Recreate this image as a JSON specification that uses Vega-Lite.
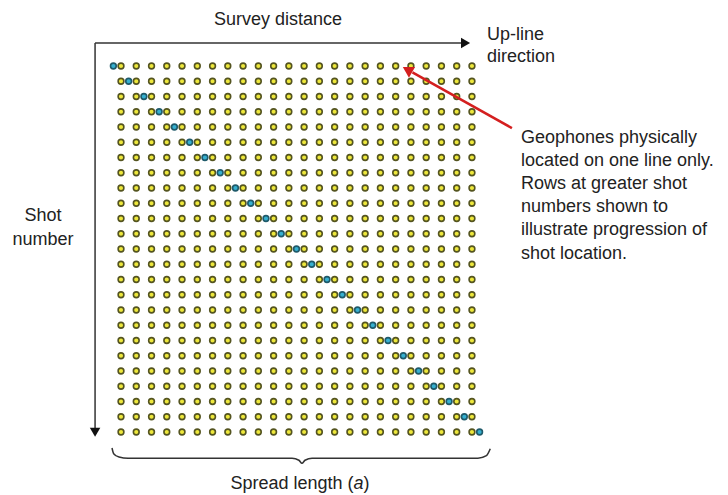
{
"$schema": "https://vega.github.io/schema/vega-lite/v6.json",
"width": 728, "height": 495,
"autosize": {"type": "fit", "contains": "padding"},
"padding": 0,
"background": "white",
"config": {"view": {"stroke": null}},
"datasets": {
"grid": [
{"x":0,"y":0},{"x":1,"y":0},{"x":2,"y":0},{"x":3,"y":0},{"x":4,"y":0},{"x":5,"y":0},{"x":6,"y":0},{"x":7,"y":0},{"x":8,"y":0},{"x":9,"y":0},{"x":10,"y":0},{"x":11,"y":0},{"x":12,"y":0},{"x":13,"y":0},{"x":14,"y":0},{"x":15,"y":0},{"x":16,"y":0},{"x":17,"y":0},{"x":18,"y":0},{"x":19,"y":0},{"x":20,"y":0},{"x":21,"y":0},{"x":22,"y":0},{"x":23,"y":0},
{"x":0,"y":1},{"x":1,"y":1},{"x":2,"y":1},{"x":3,"y":1},{"x":4,"y":1},{"x":5,"y":1},{"x":6,"y":1},{"x":7,"y":1},{"x":8,"y":1},{"x":9,"y":1},{"x":10,"y":1},{"x":11,"y":1},{"x":12,"y":1},{"x":13,"y":1},{"x":14,"y":1},{"x":15,"y":1},{"x":16,"y":1},{"x":17,"y":1},{"x":18,"y":1},{"x":19,"y":1},{"x":20,"y":1},{"x":21,"y":1},{"x":22,"y":1},{"x":23,"y":1},
{"x":0,"y":2},{"x":1,"y":2},{"x":2,"y":2},{"x":3,"y":2},{"x":4,"y":2},{"x":5,"y":2},{"x":6,"y":2},{"x":7,"y":2},{"x":8,"y":2},{"x":9,"y":2},{"x":10,"y":2},{"x":11,"y":2},{"x":12,"y":2},{"x":13,"y":2},{"x":14,"y":2},{"x":15,"y":2},{"x":16,"y":2},{"x":17,"y":2},{"x":18,"y":2},{"x":19,"y":2},{"x":20,"y":2},{"x":21,"y":2},{"x":22,"y":2},{"x":23,"y":2},
{"x":0,"y":3},{"x":1,"y":3},{"x":2,"y":3},{"x":3,"y":3},{"x":4,"y":3},{"x":5,"y":3},{"x":6,"y":3},{"x":7,"y":3},{"x":8,"y":3},{"x":9,"y":3},{"x":10,"y":3},{"x":11,"y":3},{"x":12,"y":3},{"x":13,"y":3},{"x":14,"y":3},{"x":15,"y":3},{"x":16,"y":3},{"x":17,"y":3},{"x":18,"y":3},{"x":19,"y":3},{"x":20,"y":3},{"x":21,"y":3},{"x":22,"y":3},{"x":23,"y":3},
{"x":0,"y":4},{"x":1,"y":4},{"x":2,"y":4},{"x":3,"y":4},{"x":4,"y":4},{"x":5,"y":4},{"x":6,"y":4},{"x":7,"y":4},{"x":8,"y":4},{"x":9,"y":4},{"x":10,"y":4},{"x":11,"y":4},{"x":12,"y":4},{"x":13,"y":4},{"x":14,"y":4},{"x":15,"y":4},{"x":16,"y":4},{"x":17,"y":4},{"x":18,"y":4},{"x":19,"y":4},{"x":20,"y":4},{"x":21,"y":4},{"x":22,"y":4},{"x":23,"y":4},
{"x":0,"y":5},{"x":1,"y":5},{"x":2,"y":5},{"x":3,"y":5},{"x":4,"y":5},{"x":5,"y":5},{"x":6,"y":5},{"x":7,"y":5},{"x":8,"y":5},{"x":9,"y":5},{"x":10,"y":5},{"x":11,"y":5},{"x":12,"y":5},{"x":13,"y":5},{"x":14,"y":5},{"x":15,"y":5},{"x":16,"y":5},{"x":17,"y":5},{"x":18,"y":5},{"x":19,"y":5},{"x":20,"y":5},{"x":21,"y":5},{"x":22,"y":5},{"x":23,"y":5},
{"x":0,"y":6},{"x":1,"y":6},{"x":2,"y":6},{"x":3,"y":6},{"x":4,"y":6},{"x":5,"y":6},{"x":6,"y":6},{"x":7,"y":6},{"x":8,"y":6},{"x":9,"y":6},{"x":10,"y":6},{"x":11,"y":6},{"x":12,"y":6},{"x":13,"y":6},{"x":14,"y":6},{"x":15,"y":6},{"x":16,"y":6},{"x":17,"y":6},{"x":18,"y":6},{"x":19,"y":6},{"x":20,"y":6},{"x":21,"y":6},{"x":22,"y":6},{"x":23,"y":6},
{"x":0,"y":7},{"x":1,"y":7},{"x":2,"y":7},{"x":3,"y":7},{"x":4,"y":7},{"x":5,"y":7},{"x":6,"y":7},{"x":7,"y":7},{"x":8,"y":7},{"x":9,"y":7},{"x":10,"y":7},{"x":11,"y":7},{"x":12,"y":7},{"x":13,"y":7},{"x":14,"y":7},{"x":15,"y":7},{"x":16,"y":7},{"x":17,"y":7},{"x":18,"y":7},{"x":19,"y":7},{"x":20,"y":7},{"x":21,"y":7},{"x":22,"y":7},{"x":23,"y":7},
{"x":0,"y":8},{"x":1,"y":8},{"x":2,"y":8},{"x":3,"y":8},{"x":4,"y":8},{"x":5,"y":8},{"x":6,"y":8},{"x":7,"y":8},{"x":8,"y":8},{"x":9,"y":8},{"x":10,"y":8},{"x":11,"y":8},{"x":12,"y":8},{"x":13,"y":8},{"x":14,"y":8},{"x":15,"y":8},{"x":16,"y":8},{"x":17,"y":8},{"x":18,"y":8},{"x":19,"y":8},{"x":20,"y":8},{"x":21,"y":8},{"x":22,"y":8},{"x":23,"y":8},
{"x":0,"y":9},{"x":1,"y":9},{"x":2,"y":9},{"x":3,"y":9},{"x":4,"y":9},{"x":5,"y":9},{"x":6,"y":9},{"x":7,"y":9},{"x":8,"y":9},{"x":9,"y":9},{"x":10,"y":9},{"x":11,"y":9},{"x":12,"y":9},{"x":13,"y":9},{"x":14,"y":9},{"x":15,"y":9},{"x":16,"y":9},{"x":17,"y":9},{"x":18,"y":9},{"x":19,"y":9},{"x":20,"y":9},{"x":21,"y":9},{"x":22,"y":9},{"x":23,"y":9},
{"x":0,"y":10},{"x":1,"y":10},{"x":2,"y":10},{"x":3,"y":10},{"x":4,"y":10},{"x":5,"y":10},{"x":6,"y":10},{"x":7,"y":10},{"x":8,"y":10},{"x":9,"y":10},{"x":10,"y":10},{"x":11,"y":10},{"x":12,"y":10},{"x":13,"y":10},{"x":14,"y":10},{"x":15,"y":10},{"x":16,"y":10},{"x":17,"y":10},{"x":18,"y":10},{"x":19,"y":10},{"x":20,"y":10},{"x":21,"y":10},{"x":22,"y":10},{"x":23,"y":10},
{"x":0,"y":11},{"x":1,"y":11},{"x":2,"y":11},{"x":3,"y":11},{"x":4,"y":11},{"x":5,"y":11},{"x":6,"y":11},{"x":7,"y":11},{"x":8,"y":11},{"x":9,"y":11},{"x":10,"y":11},{"x":11,"y":11},{"x":12,"y":11},{"x":13,"y":11},{"x":14,"y":11},{"x":15,"y":11},{"x":16,"y":11},{"x":17,"y":11},{"x":18,"y":11},{"x":19,"y":11},{"x":20,"y":11},{"x":21,"y":11},{"x":22,"y":11},{"x":23,"y":11},
{"x":0,"y":12},{"x":1,"y":12},{"x":2,"y":12},{"x":3,"y":12},{"x":4,"y":12},{"x":5,"y":12},{"x":6,"y":12},{"x":7,"y":12},{"x":8,"y":12},{"x":9,"y":12},{"x":10,"y":12},{"x":11,"y":12},{"x":12,"y":12},{"x":13,"y":12},{"x":14,"y":12},{"x":15,"y":12},{"x":16,"y":12},{"x":17,"y":12},{"x":18,"y":12},{"x":19,"y":12},{"x":20,"y":12},{"x":21,"y":12},{"x":22,"y":12},{"x":23,"y":12},
{"x":0,"y":13},{"x":1,"y":13},{"x":2,"y":13},{"x":3,"y":13},{"x":4,"y":13},{"x":5,"y":13},{"x":6,"y":13},{"x":7,"y":13},{"x":8,"y":13},{"x":9,"y":13},{"x":10,"y":13},{"x":11,"y":13},{"x":12,"y":13},{"x":13,"y":13},{"x":14,"y":13},{"x":15,"y":13},{"x":16,"y":13},{"x":17,"y":13},{"x":18,"y":13},{"x":19,"y":13},{"x":20,"y":13},{"x":21,"y":13},{"x":22,"y":13},{"x":23,"y":13},
{"x":0,"y":14},{"x":1,"y":14},{"x":2,"y":14},{"x":3,"y":14},{"x":4,"y":14},{"x":5,"y":14},{"x":6,"y":14},{"x":7,"y":14},{"x":8,"y":14},{"x":9,"y":14},{"x":10,"y":14},{"x":11,"y":14},{"x":12,"y":14},{"x":13,"y":14},{"x":14,"y":14},{"x":15,"y":14},{"x":16,"y":14},{"x":17,"y":14},{"x":18,"y":14},{"x":19,"y":14},{"x":20,"y":14},{"x":21,"y":14},{"x":22,"y":14},{"x":23,"y":14},
{"x":0,"y":15},{"x":1,"y":15},{"x":2,"y":15},{"x":3,"y":15},{"x":4,"y":15},{"x":5,"y":15},{"x":6,"y":15},{"x":7,"y":15},{"x":8,"y":15},{"x":9,"y":15},{"x":10,"y":15},{"x":11,"y":15},{"x":12,"y":15},{"x":13,"y":15},{"x":14,"y":15},{"x":15,"y":15},{"x":16,"y":15},{"x":17,"y":15},{"x":18,"y":15},{"x":19,"y":15},{"x":20,"y":15},{"x":21,"y":15},{"x":22,"y":15},{"x":23,"y":15},
{"x":0,"y":16},{"x":1,"y":16},{"x":2,"y":16},{"x":3,"y":16},{"x":4,"y":16},{"x":5,"y":16},{"x":6,"y":16},{"x":7,"y":16},{"x":8,"y":16},{"x":9,"y":16},{"x":10,"y":16},{"x":11,"y":16},{"x":12,"y":16},{"x":13,"y":16},{"x":14,"y":16},{"x":15,"y":16},{"x":16,"y":16},{"x":17,"y":16},{"x":18,"y":16},{"x":19,"y":16},{"x":20,"y":16},{"x":21,"y":16},{"x":22,"y":16},{"x":23,"y":16},
{"x":0,"y":17},{"x":1,"y":17},{"x":2,"y":17},{"x":3,"y":17},{"x":4,"y":17},{"x":5,"y":17},{"x":6,"y":17},{"x":7,"y":17},{"x":8,"y":17},{"x":9,"y":17},{"x":10,"y":17},{"x":11,"y":17},{"x":12,"y":17},{"x":13,"y":17},{"x":14,"y":17},{"x":15,"y":17},{"x":16,"y":17},{"x":17,"y":17},{"x":18,"y":17},{"x":19,"y":17},{"x":20,"y":17},{"x":21,"y":17},{"x":22,"y":17},{"x":23,"y":17},
{"x":0,"y":18},{"x":1,"y":18},{"x":2,"y":18},{"x":3,"y":18},{"x":4,"y":18},{"x":5,"y":18},{"x":6,"y":18},{"x":7,"y":18},{"x":8,"y":18},{"x":9,"y":18},{"x":10,"y":18},{"x":11,"y":18},{"x":12,"y":18},{"x":13,"y":18},{"x":14,"y":18},{"x":15,"y":18},{"x":16,"y":18},{"x":17,"y":18},{"x":18,"y":18},{"x":19,"y":18},{"x":20,"y":18},{"x":21,"y":18},{"x":22,"y":18},{"x":23,"y":18},
{"x":0,"y":19},{"x":1,"y":19},{"x":2,"y":19},{"x":3,"y":19},{"x":4,"y":19},{"x":5,"y":19},{"x":6,"y":19},{"x":7,"y":19},{"x":8,"y":19},{"x":9,"y":19},{"x":10,"y":19},{"x":11,"y":19},{"x":12,"y":19},{"x":13,"y":19},{"x":14,"y":19},{"x":15,"y":19},{"x":16,"y":19},{"x":17,"y":19},{"x":18,"y":19},{"x":19,"y":19},{"x":20,"y":19},{"x":21,"y":19},{"x":22,"y":19},{"x":23,"y":19},
{"x":0,"y":20},{"x":1,"y":20},{"x":2,"y":20},{"x":3,"y":20},{"x":4,"y":20},{"x":5,"y":20},{"x":6,"y":20},{"x":7,"y":20},{"x":8,"y":20},{"x":9,"y":20},{"x":10,"y":20},{"x":11,"y":20},{"x":12,"y":20},{"x":13,"y":20},{"x":14,"y":20},{"x":15,"y":20},{"x":16,"y":20},{"x":17,"y":20},{"x":18,"y":20},{"x":19,"y":20},{"x":20,"y":20},{"x":21,"y":20},{"x":22,"y":20},{"x":23,"y":20},
{"x":0,"y":21},{"x":1,"y":21},{"x":2,"y":21},{"x":3,"y":21},{"x":4,"y":21},{"x":5,"y":21},{"x":6,"y":21},{"x":7,"y":21},{"x":8,"y":21},{"x":9,"y":21},{"x":10,"y":21},{"x":11,"y":21},{"x":12,"y":21},{"x":13,"y":21},{"x":14,"y":21},{"x":15,"y":21},{"x":16,"y":21},{"x":17,"y":21},{"x":18,"y":21},{"x":19,"y":21},{"x":20,"y":21},{"x":21,"y":21},{"x":22,"y":21},{"x":23,"y":21},
{"x":0,"y":22},{"x":1,"y":22},{"x":2,"y":22},{"x":3,"y":22},{"x":4,"y":22},{"x":5,"y":22},{"x":6,"y":22},{"x":7,"y":22},{"x":8,"y":22},{"x":9,"y":22},{"x":10,"y":22},{"x":11,"y":22},{"x":12,"y":22},{"x":13,"y":22},{"x":14,"y":22},{"x":15,"y":22},{"x":16,"y":22},{"x":17,"y":22},{"x":18,"y":22},{"x":19,"y":22},{"x":20,"y":22},{"x":21,"y":22},{"x":22,"y":22},{"x":23,"y":22},
{"x":0,"y":23},{"x":1,"y":23},{"x":2,"y":23},{"x":3,"y":23},{"x":4,"y":23},{"x":5,"y":23},{"x":6,"y":23},{"x":7,"y":23},{"x":8,"y":23},{"x":9,"y":23},{"x":10,"y":23},{"x":11,"y":23},{"x":12,"y":23},{"x":13,"y":23},{"x":14,"y":23},{"x":15,"y":23},{"x":16,"y":23},{"x":17,"y":23},{"x":18,"y":23},{"x":19,"y":23},{"x":20,"y":23},{"x":21,"y":23},{"x":22,"y":23},{"x":23,"y":23},
{"x":0,"y":24},{"x":1,"y":24},{"x":2,"y":24},{"x":3,"y":24},{"x":4,"y":24},{"x":5,"y":24},{"x":6,"y":24},{"x":7,"y":24},{"x":8,"y":24},{"x":9,"y":24},{"x":10,"y":24},{"x":11,"y":24},{"x":12,"y":24},{"x":13,"y":24},{"x":14,"y":24},{"x":15,"y":24},{"x":16,"y":24},{"x":17,"y":24},{"x":18,"y":24},{"x":19,"y":24},{"x":20,"y":24},{"x":21,"y":24},{"x":22,"y":24},{"x":23,"y":24}
],
"shots": [
{"x":-0.5,"y":0},{"x":0.5,"y":1},{"x":1.5,"y":2},{"x":2.5,"y":3},{"x":3.5,"y":4},{"x":4.5,"y":5},{"x":5.5,"y":6},{"x":6.5,"y":7},{"x":7.5,"y":8},{"x":8.5,"y":9},{"x":9.5,"y":10},{"x":10.5,"y":11},{"x":11.5,"y":12},{"x":12.5,"y":13},{"x":13.5,"y":14},{"x":14.5,"y":15},{"x":15.5,"y":16},{"x":16.5,"y":17},{"x":17.5,"y":18},{"x":18.5,"y":19},{"x":19.5,"y":20},{"x":20.5,"y":21},{"x":21.5,"y":22},{"x":22.5,"y":23},{"x":23.5,"y":24}
],
"axes": [
{"g":"h","o":0,"x":-1.7,"y":-1.51},{"g":"h","o":1,"x":22.5,"y":-1.51},
{"g":"v","o":0,"x":-1.7,"y":-1.51},{"g":"v","o":1,"x":-1.7,"y":23.9}
],
"brace": [
{"o":0,"x":-0.59,"y":25.05},{"o":1,"x":-0.48,"y":25.42},{"o":2,"x":-0.13,"y":25.64},{"o":3,"x":0.46,"y":25.72},
{"o":4,"x":11.21,"y":25.72},{"o":5,"x":11.66,"y":25.85},{"o":6,"x":11.86,"y":26.05},{"o":7,"x":12.06,"y":25.85},
{"o":8,"x":12.52,"y":25.72},{"o":9,"x":23.39,"y":25.72},{"o":10,"x":23.95,"y":25.55},{"o":11,"x":24.2,"y":25.1}
],
"redline": [{"o":0,"x":25.62,"y":4.07},{"o":1,"x":19.1,"y":0.42}],
"centerText": [
{"x":10.29,"y":-3.05,"t":"Survey distance"},
{"x":-5.11,"y":9.85,"t":"Shot"},
{"x":-5.11,"y":11.4,"t":"number"}
],
"leftText": [
{"x":23.98,"y":-2.03,"t":"Up-line"},
{"x":23.98,"y":-0.59,"t":"direction"},
{"x":26.21,"y":4.7,"t":"Geophones physically"},
{"x":26.21,"y":6.22,"t":"located on one line only."},
{"x":26.21,"y":7.74,"t":"Rows at greater shot"},
{"x":26.21,"y":9.26,"t":"numbers shown to"},
{"x":26.21,"y":10.78,"t":"illustrate progression of"},
{"x":26.21,"y":12.3,"t":"shot location."}
]
},
"encoding": {
"x": {"field": "x", "type": "quantitative", "scale": {"domain": [-7.93, 39.78], "nice": false, "zero": false}, "axis": null},
"y": {"field": "y", "type": "quantitative", "scale": {"domain": [-4.33, 28.13], "nice": false, "zero": false, "reverse": true}, "axis": null}
},
"layer": [
{"data": {"name": "axes"}, "mark": {"type": "line", "color": "#333333", "strokeWidth": 1.5},
 "encoding": {"detail": {"field": "g"}, "order": {"field": "o"}}},
{"data": {"values": [{"x": 22.58, "y": -1.51}]}, "mark": {"type": "point", "shape": "triangle-right", "filled": true, "color": "#111111", "size": 110, "opacity": 1}},
{"data": {"values": [{"x": -1.7, "y": 24.02}]}, "mark": {"type": "point", "shape": "triangle-down", "filled": true, "color": "#111111", "size": 110, "opacity": 1}},
{"data": {"name": "grid"}, "mark": {"type": "point", "shape": "circle", "filled": true, "fill": "#eee83c", "stroke": "#545420", "strokeWidth": 1.6, "size": 33, "opacity": 1}},
{"data": {"name": "shots"}, "mark": {"type": "point", "shape": "circle", "filled": true, "fill": "#36b0d0", "stroke": "#1f5a6a", "strokeWidth": 1.6, "size": 33, "opacity": 1}},
{"data": {"name": "redline"}, "mark": {"type": "line", "color": "#d41f1f", "strokeWidth": 2.5},
 "encoding": {"order": {"field": "o"}}},
{"data": {"values": [{"x": 18.87, "y": 0.3}]}, "mark": {"type": "point", "shape": "triangle", "angle": 300, "filled": true, "color": "#d41f1f", "size": 150, "opacity": 1}},
{"data": {"name": "brace"}, "mark": {"type": "line", "color": "#333333", "strokeWidth": 1.5, "interpolate": "monotone"},
 "encoding": {"order": {"field": "o"}}},
{"data": {"name": "centerText"}, "mark": {"type": "text", "font": "Liberation Sans", "fontSize": 18, "color": "#222222", "align": "center", "baseline": "middle"},
 "encoding": {"text": {"field": "t"}}},
{"data": {"name": "leftText"}, "mark": {"type": "text", "font": "Liberation Sans", "fontSize": 18, "color": "#222222", "align": "left", "baseline": "middle"},
 "encoding": {"text": {"field": "t"}}},
{"data": {"values": [{"x": 15.24, "y": 27.4, "t": "Spread length ("}]}, "mark": {"type": "text", "font": "Liberation Sans", "fontSize": 18, "color": "#222222", "align": "right", "baseline": "middle"},
 "encoding": {"text": {"field": "t"}}},
{"data": {"values": [{"x": 15.24, "y": 27.4, "t": "a"}]}, "mark": {"type": "text", "font": "Liberation Sans", "fontSize": 18, "fontStyle": "italic", "color": "#222222", "align": "left", "baseline": "middle"},
 "encoding": {"text": {"field": "t"}}},
{"data": {"values": [{"x": 15.89, "y": 27.4, "t": ")"}]}, "mark": {"type": "text", "font": "Liberation Sans", "fontSize": 18, "color": "#222222", "align": "left", "baseline": "middle"},
 "encoding": {"text": {"field": "t"}}}
]
}
